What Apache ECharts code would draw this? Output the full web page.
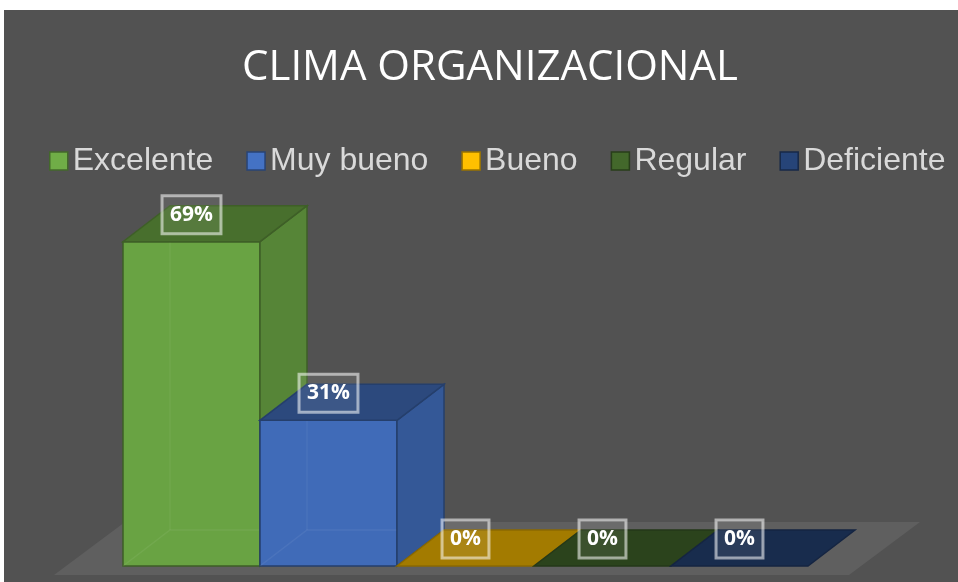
<!DOCTYPE html>
<html>
<head>
<meta charset="utf-8">
<script src="https://cdn.jsdelivr.net/npm/echarts@6/dist/echarts.min.js"></script>
<style>
  html, body { margin: 0; padding: 0; background: #ffffff; }
  #chart { position: absolute; left: 4px; top: 10px; width: 954px; height: 572px; }
</style>
</head>
<body>
<div id="chart"></div>
<script>
const categories = ['Excelente', 'Muy bueno', 'Bueno', 'Regular', 'Deficiente'];
const percentages = [69, 31, 0, 0, 0];
const colors = ['#70ad47', '#4472c4', '#ffc000', '#43682b', '#264478'];

function shade(hex, f) {
  const n = parseInt(hex.slice(1), 16);
  const r = Math.round(((n >> 16) & 255) * f);
  const g = Math.round(((n >> 8) & 255) * f);
  const b = Math.round((n & 255) * f);
  return `rgb(${r},${g},${b})`;
}

// depth offset of the 3D boxes
const DX = 47, DY = 36;

function barRenderer(color) {
  return function (params, api) {
    const cat = api.value(0), val = api.value(1);
    const base = api.coord([cat, 0]);
    const top = api.coord([cat, val]);
    const w = api.size([1, 0])[0];
    const x0 = base[0] - w / 2, x1 = base[0] + w / 2;
    const yb = base[1], yt = top[1];
    const edge = shade(color, 0.55);
    const children = [];
    if (yb - yt > 0.5) {
      children.push({
        type: 'rect',
        shape: { x: x0, y: yt, width: x1 - x0, height: yb - yt },
        style: { fill: shade(color, 0.94), stroke: edge, lineWidth: 1.5 }
      });
      // hidden back edges faintly showing through
      children.push({
        type: 'polyline',
        shape: { points: [[x0, yb], [x0 + DX, yb - DY], [x1 + DX, yb - DY]] },
        style: { fill: null, stroke: 'rgba(255,255,255,0.06)', lineWidth: 1.5 }
      });
      children.push({
        type: 'line',
        shape: { x1: x0 + DX, y1: yt - DY, x2: x0 + DX, y2: yb - DY },
        style: { stroke: 'rgba(255,255,255,0.05)', lineWidth: 1.5 }
      });
      children.push({
        type: 'polygon',
        shape: { points: [[x1, yt], [x1 + DX, yt - DY], [x1 + DX, yb - DY], [x1, yb]] },
        style: { fill: shade(color, 0.77), stroke: edge, lineWidth: 1.5 }
      });
    }
    children.push({
      type: 'polygon',
      shape: { points: [[x0, yt], [x1, yt], [x1 + DX, yt - DY], [x0 + DX, yt - DY]] },
      style: { fill: shade(color, 0.64), stroke: edge, lineWidth: 1.5 }
    });
    children.push({
      type: 'text',
      z2: 100,
      style: {
        x: base[0], y: yt - 27,
        text: api.value(1) + '%',
        fill: '#ffffff',
        font: 'bold 21px "Open Sans"',
        align: 'center', verticalAlign: 'middle',
        lineHeight: 22,
        padding: [8, 8],
        backgroundColor: 'rgba(255,255,255,0.08)',
        borderColor: 'rgba(255,255,255,0.55)',
        borderWidth: 1.5
      }
    });
    return { type: 'group', children };
  };
}

function floorRenderer(params, api) {
  const first = api.coord([0, 0]);
  const last = api.coord([categories.length - 1, 0]);
  const w = api.size([1, 0])[0];
  const x0 = first[0] - w / 2, x1 = last[0] + w / 2, yb = first[1];
  return {
    type: 'polygon',
    shape: { points: [[x0 - 69, yb + 9], [x1 + 41, yb + 9], [x1 + 112, yb - 44], [x0 + 2, yb - 44]] },
    style: { fill: '#5f5f5f' }
  };
}

const series = [{
  type: 'custom',
  name: 'floor',
  z: 1,
  silent: true,
  data: [[0, 0]],
  renderItem: floorRenderer
}];
categories.forEach((name, i) => {
  series.push({
    type: 'custom',
    name,
    z: 2 + i,
    itemStyle: { color: colors[i] },
    data: [[i, percentages[i]]],
    renderItem: barRenderer(colors[i])
  });
});

const chart = echarts.init(document.getElementById('chart'));
chart.setOption({
  backgroundColor: '#525252',
  animation: false,
  title: {
    text: 'CLIMA ORGANIZACIONAL',
    left: 233,
    top: 32,
    textStyle: { color: '#ffffff', fontFamily: 'Open Sans', fontWeight: 'normal', fontSize: 42 }
  },
  legend: {
    data: categories.map((name, i) => ({
      name,
      icon: 'rect',
      itemStyle: { color: colors[i], borderColor: shade(colors[i], 0.6), borderWidth: 1.5 }
    })),
    left: 40,
    top: 130,
    itemWidth: 18,
    itemHeight: 18,
    itemGap: 33,
    textStyle: { color: '#d9d9d9', fontFamily: 'Liberation Sans', fontSize: 32, padding: [0, 0, 0, 0] }
  },
  grid: { left: 119, top: 86, width: 685, height: 470 },
  xAxis: { type: 'category', data: categories, show: false },
  yAxis: { type: 'value', min: 0, max: 100, show: false },
  series
});
</script>
</body>
</html>
